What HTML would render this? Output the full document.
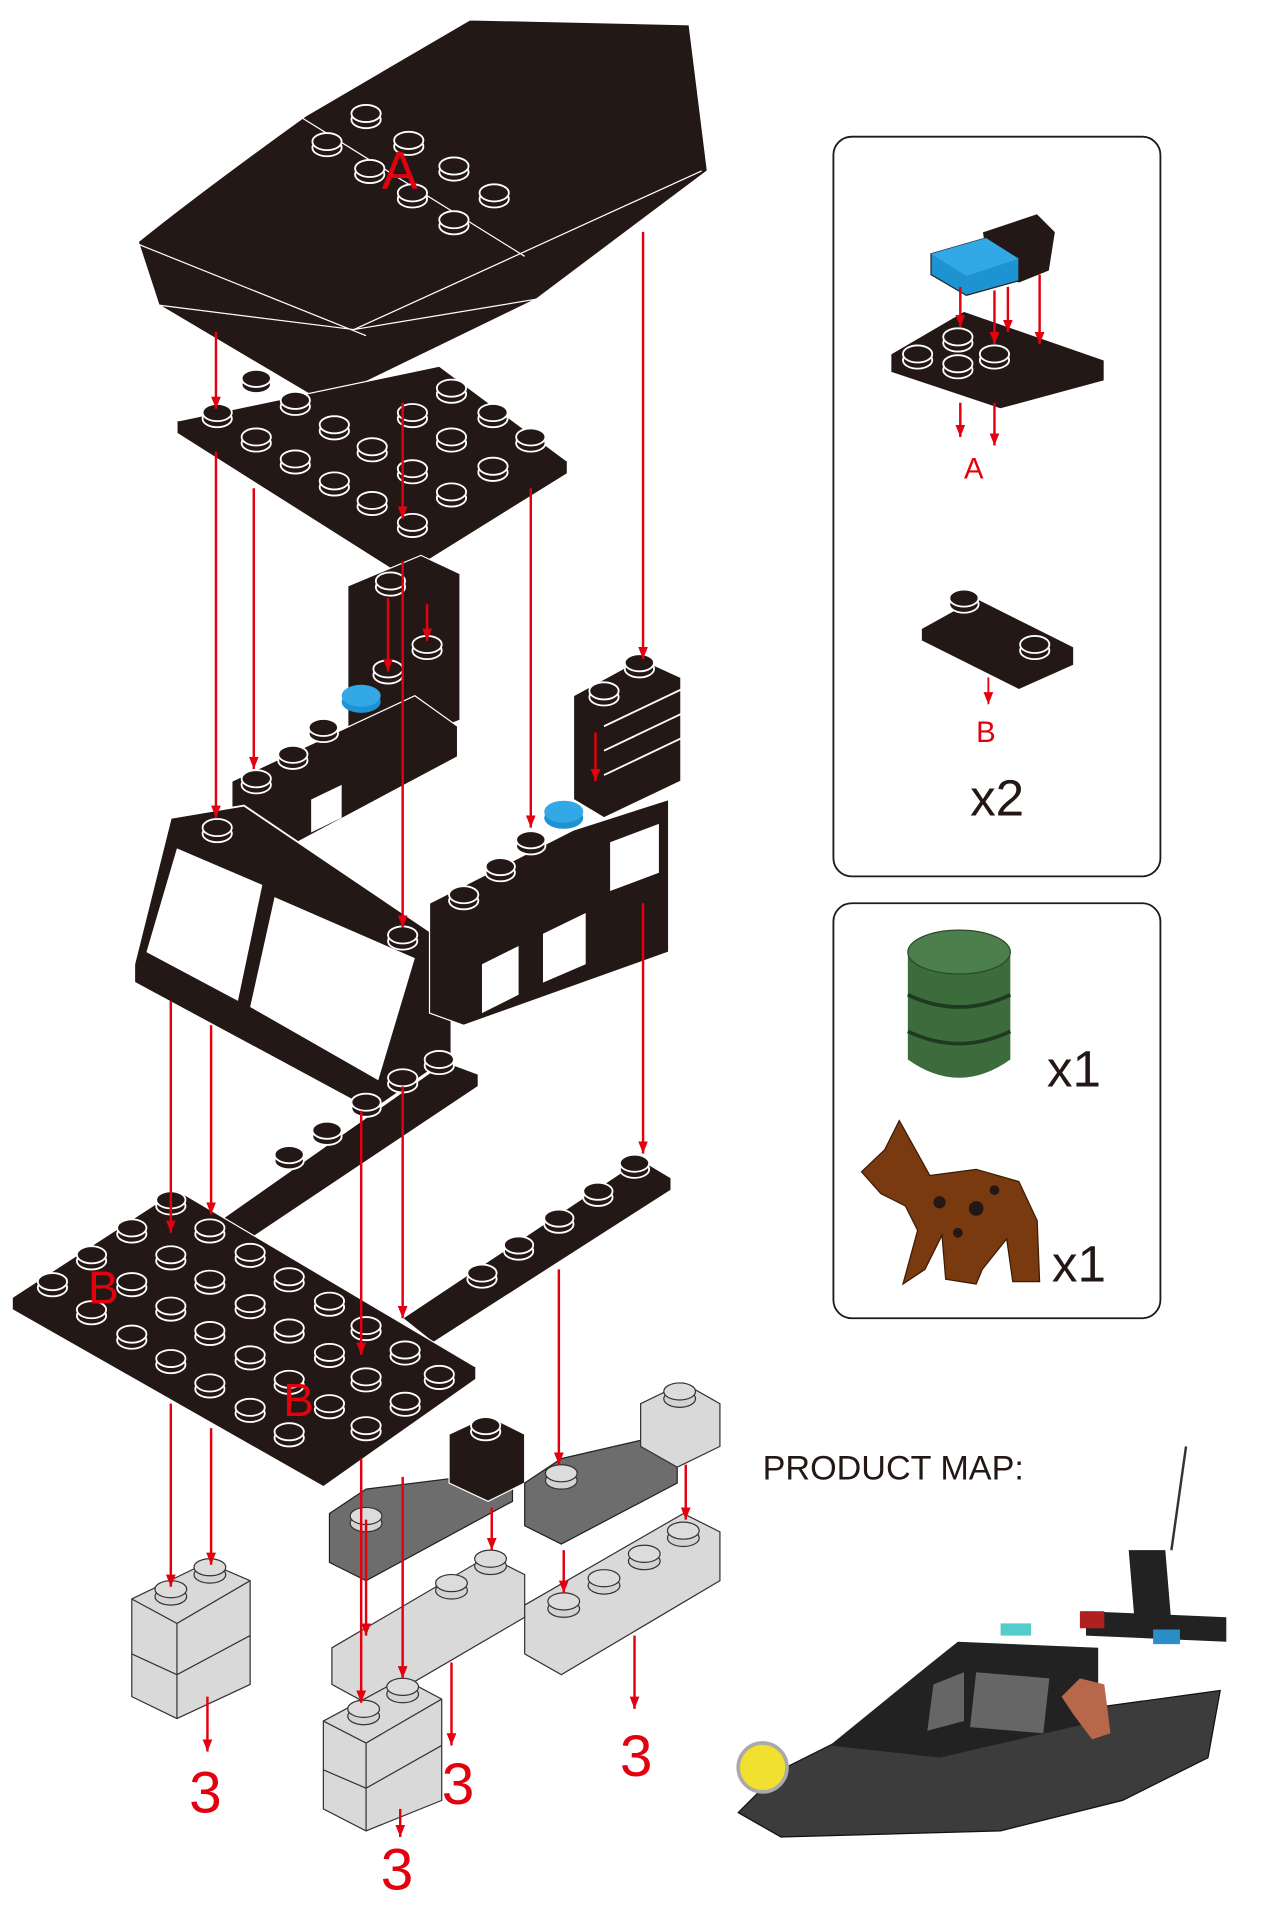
<!DOCTYPE html>
<html><head><meta charset="utf-8"><style>
html,body{margin:0;padding:0;background:#fff;}
svg{display:block;}
text{font-family:"Liberation Sans",sans-serif;}
</style></head><body>
<svg width="1280" height="1920" viewBox="0 0 1049 1573" preserveAspectRatio="none" xmlns="http://www.w3.org/2000/svg">
<defs>
<marker id="ar" markerWidth="10" markerHeight="8" refX="10" refY="4" orient="auto" markerUnits="userSpaceOnUse">
<path d="M0,0 L10,4 L0,8 Z" fill="#e3000f"/></marker>
<g id="stud"><ellipse cx="0" cy="3" rx="12" ry="7" fill="#231815" stroke="#fff" stroke-width="1.5"/><ellipse cx="0" cy="-2" rx="12" ry="7" fill="#231815" stroke="#fff" stroke-width="1.5"/></g>
<g id="gstud"><ellipse cx="0" cy="3" rx="13" ry="7" fill="#d3d3d3" stroke="#333" stroke-width="1"/><ellipse cx="0" cy="-3" rx="13" ry="7" fill="#dcdcdc" stroke="#333" stroke-width="1"/></g>
</defs>

<!-- roof -->
<path d="M113,198 Q160,160 250,95 L385,16 L565,20 L580,140 L440,245 L265,330 L130,250 Z" fill="#231815" stroke="#fff" stroke-width="1.5"/>
<path d="M130,250 L290,270 L440,245 M290,270 L575,140 M245,95 L430,210 M113,200 L300,275" stroke="#fff" stroke-width="1" fill="none"/>
<g><use href="#stud" x="300" y="95"/><use href="#stud" x="268" y="118"/><use href="#stud" x="335" y="117"/><use href="#stud" x="303" y="140"/><use href="#stud" x="372" y="138"/><use href="#stud" x="338" y="160"/><use href="#stud" x="405" y="160"/><use href="#stud" x="372" y="182"/></g>
<text x="313" y="155" font-size="44" fill="#e3000f">A</text>

<!-- plate 1 -->
<path d="M145,345 L360,300 L465,378 L330,462 Z" fill="#231815" stroke="#fff" stroke-width="1"/>
<path d="M145,345 L145,355 L330,472 L465,388 L465,378" fill="#231815" stroke="#fff" stroke-width="1"/>
<g>
<use href="#stud" x="178" y="340"/><use href="#stud" x="210" y="312"/><use href="#stud" x="210" y="360"/><use href="#stud" x="242" y="330"/><use href="#stud" x="242" y="378"/><use href="#stud" x="274" y="350"/><use href="#stud" x="274" y="396"/><use href="#stud" x="305" y="368"/><use href="#stud" x="305" y="412"/><use href="#stud" x="338" y="386"/><use href="#stud" x="338" y="430"/><use href="#stud" x="370" y="320"/><use href="#stud" x="370" y="405"/><use href="#stud" x="404" y="340"/><use href="#stud" x="404" y="384"/><use href="#stud" x="435" y="360"/><use href="#stud" x="338" y="340"/><use href="#stud" x="370" y="360"/>
</g>

<!-- small tower -->
<path d="M285,480 L345,455 L377,470 L377,590 L300,620 L285,610 Z" fill="#231815" stroke="#fff" stroke-width="1"/>
<use href="#stud" x="320" y="478"/><use href="#stud" x="350" y="530"/><use href="#stud" x="318" y="550"/>
<!-- wall row 1 -->
<path d="M190,640 L340,570 L375,595 L375,620 L225,700 L190,690 Z" fill="#231815" stroke="#fff" stroke-width="1"/>
<path d="M255,655 L280,643 L280,670 L255,682 Z" fill="#fff"/>
<use href="#stud" x="210" y="640"/><use href="#stud" x="240" y="620"/><use href="#stud" x="265" y="598"/>
<ellipse cx="296" cy="575" rx="16" ry="9" fill="#1e93d2"/><ellipse cx="296" cy="570" rx="16" ry="9" fill="#32a8e6"/>

<!-- windscreen -->
<path d="M110,790 L140,670 L200,660 L370,775 L370,865 L305,910 L110,805 Z" fill="#231815" stroke="#fff" stroke-width="1.5"/>
<path d="M120,780 L145,695 L215,725 L195,820 Z" fill="#fff"/>
<path d="M205,825 L225,735 L340,785 L310,885 Z" fill="#fff"/>
<use href="#stud" x="178" y="680"/><use href="#stud" x="330" y="768"/>
<!-- wall row 2 right -->
<path d="M352,740 L470,680 L548,655 L548,780 L380,840 L352,830 Z" fill="#231815" stroke="#fff" stroke-width="1"/>
<path d="M395,790 L425,775 L425,815 L395,830 Z M445,765 L480,748 L480,790 L445,805 Z M500,690 L540,675 L540,715 L500,730 Z" fill="#fff"/>
<use href="#stud" x="380" y="735"/><use href="#stud" x="410" y="712"/><use href="#stud" x="435" y="690"/>
<ellipse cx="462" cy="670" rx="16" ry="9" fill="#1e93d2"/><ellipse cx="462" cy="665" rx="16" ry="9" fill="#32a8e6"/>
<!-- stacked slats -->
<path d="M470,570 L525,540 L558,555 L558,640 L495,670 L470,655 Z" fill="#231815" stroke="#fff" stroke-width="1"/>
<path d="M495,595 L558,565 M495,615 L558,585 M495,635 L558,605" stroke="#fff" stroke-width="1.5"/>
<use href="#stud" x="495" y="568"/><use href="#stud" x="524" y="545"/>

<!-- bar 1 -->
<path d="M180,1000 L365,870 L392,880 L392,890 L205,1015 Z" fill="#231815" stroke="#fff" stroke-width="1"/>
<use href="#stud" x="237" y="948"/><use href="#stud" x="268" y="928"/><use href="#stud" x="300" y="905"/><use href="#stud" x="330" y="885"/><use href="#stud" x="360" y="870"/>
<!-- bar 2 -->
<path d="M330,1080 L525,950 L550,965 L550,975 L355,1100 Z" fill="#231815" stroke="#fff" stroke-width="1"/>
<use href="#stud" x="395" y="1045"/><use href="#stud" x="425" y="1022"/><use href="#stud" x="458" y="1000"/><use href="#stud" x="490" y="978"/><use href="#stud" x="520" y="955"/>

<!-- big plate B -->
<path d="M10,1063 L145,975 L390,1120 L265,1208 Z" fill="#231815" stroke="#fff" stroke-width="1"/>
<path d="M10,1063 L10,1073 L265,1218 L390,1130 L390,1120" fill="#231815" stroke="#fff" stroke-width="1"/>
<g>
<use href="#stud" x="43" y="1052"/><use href="#stud" x="75" y="1030"/><use href="#stud" x="108" y="1008"/><use href="#stud" x="140" y="985"/>
<use href="#stud" x="75" y="1075"/><use href="#stud" x="108" y="1052"/><use href="#stud" x="140" y="1030"/><use href="#stud" x="172" y="1008"/>
<use href="#stud" x="108" y="1095"/><use href="#stud" x="140" y="1072"/><use href="#stud" x="172" y="1050"/><use href="#stud" x="205" y="1028"/>
<use href="#stud" x="140" y="1115"/><use href="#stud" x="172" y="1092"/><use href="#stud" x="205" y="1070"/><use href="#stud" x="237" y="1048"/>
<use href="#stud" x="172" y="1135"/><use href="#stud" x="205" y="1112"/><use href="#stud" x="237" y="1090"/><use href="#stud" x="270" y="1068"/>
<use href="#stud" x="205" y="1155"/><use href="#stud" x="237" y="1132"/><use href="#stud" x="270" y="1110"/><use href="#stud" x="300" y="1088"/>
<use href="#stud" x="237" y="1175"/><use href="#stud" x="270" y="1152"/><use href="#stud" x="300" y="1130"/><use href="#stud" x="332" y="1108"/>
<use href="#stud" x="300" y="1170"/><use href="#stud" x="332" y="1150"/><use href="#stud" x="360" y="1128"/>
</g>
<text x="72" y="1068" font-size="38" fill="#e3000f">B</text>
<text x="232" y="1160" font-size="38" fill="#e3000f">B</text>

<!-- dark gray slopes -->
<path d="M270,1240 L300,1220 L380,1210 L420,1205 L420,1230 L300,1295 L270,1280 Z" fill="#6d6d6d" stroke="#222" stroke-width="1"/>
<path d="M368,1175 L400,1160 L430,1175 L430,1215 L400,1230 L368,1215 Z" fill="#231815" stroke="#fff" stroke-width="1"/>
<use href="#stud" x="398" y="1170"/>
<path d="M430,1215 L460,1195 L525,1180 L555,1195 L555,1215 L460,1265 L430,1250 Z" fill="#6d6d6d" stroke="#222" stroke-width="1"/>
<path d="M525,1150 L560,1133 L590,1150 L590,1185 L555,1202 L525,1185 Z" fill="#d9d9d9" stroke="#333" stroke-width="1"/>
<use href="#gstud" x="557" y="1143"/>

<!-- gray bricks -->
<path d="M108,1310 L170,1280 L205,1295 L205,1380 L145,1408 L108,1390 Z" fill="#d9d9d9" stroke="#333" stroke-width="1"/>
<path d="M108,1310 L145,1330 L205,1295 M145,1330 L145,1408 M108,1355 L145,1372 L205,1340" stroke="#333" fill="none"/>
<use href="#gstud" x="140" y="1305"/><use href="#gstud" x="172" y="1287"/>

<path d="M272,1350 L400,1275 L430,1290 L430,1325 L305,1398 L272,1380 Z" fill="#d9d9d9" stroke="#333" stroke-width="1"/>
<use href="#gstud" x="370" y="1300"/><use href="#gstud" x="402" y="1280"/>
<path d="M265,1410 L330,1375 L362,1392 L362,1475 L300,1500 L265,1482 Z" fill="#d9d9d9" stroke="#333" stroke-width="1"/>
<path d="M265,1410 L300,1428 L362,1392 M300,1428 L300,1500 M265,1450 L300,1465 L362,1430" stroke="#333" fill="none"/>
<use href="#gstud" x="298" y="1403"/><use href="#gstud" x="330" y="1385"/>

<path d="M430,1315 L560,1240 L590,1255 L590,1295 L460,1372 L430,1355 Z" fill="#d9d9d9" stroke="#333" stroke-width="1"/>
<use href="#gstud" x="462" y="1315"/><use href="#gstud" x="495" y="1296"/><use href="#gstud" x="528" y="1276"/><use href="#gstud" x="560" y="1257"/>
<use href="#gstud" x="300" y="1245"/><use href="#gstud" x="460" y="1210"/>

<!-- red arrows -->
<g stroke="#e3000f" stroke-width="2" marker-end="url(#ar)">
<line x1="177" y1="272" x2="177" y2="335"/>
<line x1="330" y1="330" x2="330" y2="425"/>
<line x1="527" y1="190" x2="527" y2="540"/>
<line x1="177" y1="370" x2="177" y2="670"/>
<line x1="208" y1="400" x2="208" y2="630"/>
<line x1="330" y1="460" x2="330" y2="760"/>
<line x1="435" y1="400" x2="435" y2="678"/>
<line x1="318" y1="490" x2="318" y2="550"/>
<line x1="350" y1="495" x2="350" y2="525"/>
<line x1="488" y1="600" x2="488" y2="640"/>
<line x1="140" y1="820" x2="140" y2="1010"/>
<line x1="173" y1="840" x2="173" y2="995"/>
<line x1="527" y1="740" x2="527" y2="945"/>
<line x1="296" y1="910" x2="296" y2="1110"/>
<line x1="330" y1="890" x2="330" y2="1080"/>
<line x1="140" y1="1150" x2="140" y2="1300"/>
<line x1="173" y1="1170" x2="173" y2="1282"/>
<line x1="296" y1="1195" x2="296" y2="1395"/>
<line x1="300" y1="1245" x2="300" y2="1340"/>
<line x1="330" y1="1210" x2="330" y2="1375"/>
<line x1="403" y1="1235" x2="403" y2="1270"/>
<line x1="458" y1="1040" x2="458" y2="1200"/>
<line x1="462" y1="1270" x2="462" y2="1305"/>
<line x1="562" y1="1200" x2="562" y2="1245"/>
<line x1="170" y1="1390" x2="170" y2="1435"/>
<line x1="370" y1="1362" x2="370" y2="1430"/>
<line x1="520" y1="1340" x2="520" y2="1400"/>
<line x1="328" y1="1482" x2="328" y2="1505"/>
</g>
<g fill="#e3000f" font-size="48">
<text x="155" y="1485">3</text><text x="362" y="1478">3</text><text x="508" y="1455">3</text><text x="312" y="1548">3</text>
</g>

<!-- right panels -->
<rect x="683" y="112" width="268" height="606" rx="15" fill="#fff" stroke="#231815" stroke-width="1.5"/>
<rect x="683" y="740" width="268" height="340" rx="15" fill="#fff" stroke="#231815" stroke-width="1.5"/>
<path d="M805,190 L850,175 L865,190 L860,222 L835,232 L810,222 Z" fill="#231815" stroke="#fff"/>
<path d="M763,208 L808,195 L835,212 L835,230 L792,242 L763,225 Z" fill="#1e93d2" stroke="#222"/>
<path d="M763,208 L808,195 L835,212 L792,226 Z" fill="#32a8e6"/>
<path d="M730,290 L790,255 L905,295 L905,312 L820,335 L730,305 Z" fill="#231815" stroke="#fff"/>
<use href="#stud" x="752" y="292"/><use href="#stud" x="785" y="278"/><use href="#stud" x="815" y="292"/><use href="#stud" x="785" y="300"/>
<g stroke="#e3000f" stroke-width="2" marker-end="url(#ar)">
<line x1="787" y1="235" x2="787" y2="268"/><line x1="815" y1="238" x2="815" y2="282"/><line x1="826" y1="235" x2="826" y2="272"/><line x1="852" y1="225" x2="852" y2="282"/>
<line x1="787" y1="330" x2="787" y2="358"/><line x1="815" y1="330" x2="815" y2="365"/>
</g>
<text x="790" y="392" font-size="24" fill="#e3000f">A</text>
<path d="M755,515 L800,490 L880,530 L880,545 L835,565 L755,525 Z" fill="#231815" stroke="#fff"/>
<use href="#stud" x="790" y="492"/><use href="#stud" x="848" y="530"/>
<line x1="810" y1="555" x2="810" y2="577" stroke="#e3000f" stroke-width="1.5" marker-end="url(#ar)"/>
<text x="800" y="608" font-size="24" fill="#e3000f">B</text>
<text x="795" y="668" font-size="42" fill="#231815">x2</text>
<!-- barrel -->
<path d="M744,780 L744,868 Q786,898 828,868 L828,780 Z" fill="#3c6b3c"/>
<ellipse cx="786" cy="780" rx="42" ry="18" fill="#4d7f4d" stroke="#2a4a2a"/>
<path d="M744,815 Q786,835 828,815 M744,845 Q786,865 828,845" stroke="#1f3a1f" stroke-width="3" fill="none"/>
<text x="858" y="890" font-size="42" fill="#231815">x1</text>
<!-- dog -->
<path d="M706,960 L725,942 L737,918 L752,945 L762,963 L800,958 L835,968 L850,1000 L852,1050 L830,1050 L825,1015 L805,1040 L800,1052 L775,1048 L772,1012 L758,1040 L740,1052 L752,1008 L742,988 L722,978 Z" fill="#7a3a10" stroke="#3a1a05"/>
<circle cx="770" cy="985" r="5" fill="#231815"/><circle cx="800" cy="990" r="6" fill="#231815"/><circle cx="815" cy="975" r="4" fill="#231815"/><circle cx="785" cy="1010" r="4" fill="#231815"/>
<text x="862" y="1050" font-size="42" fill="#231815">x1</text>

<!-- product map -->
<text x="625" y="1212" font-size="28" fill="#231815">PRODUCT MAP:</text>
<line x1="960" y1="1270" x2="972" y2="1185" stroke="#333" stroke-width="2"/>
<path d="M605,1485 L640,1450 L700,1420 L890,1400 L1000,1385 L990,1440 L920,1475 L820,1500 L640,1505 Z" fill="#3c3c3c" stroke="#111"/>
<path d="M680,1430 L760,1365 L785,1345 L900,1350 L900,1410 L770,1440 Z" fill="#222"/>
<path d="M765,1380 L790,1370 L790,1410 L760,1418 Z M800,1370 L860,1375 L855,1420 L795,1415 Z" fill="#666"/>
<path d="M890,1320 L1005,1325 L1005,1345 L890,1340 Z M925,1270 L955,1270 L960,1330 L930,1330 Z" fill="#222"/>
<rect x="945" y="1335" width="22" height="12" fill="#2a8fc8"/>
<rect x="885" y="1320" width="20" height="14" fill="#b02020"/>
<path d="M870,1390 L885,1375 L905,1380 L910,1420 L895,1425 L880,1405 Z" fill="#b8684a"/>
<circle cx="625" cy="1448" r="20" fill="#f0e030" stroke="#aaa" stroke-width="3"/>
<rect x="820" y="1330" width="25" height="10" fill="#5cc"/>
</svg>
</body></html>
